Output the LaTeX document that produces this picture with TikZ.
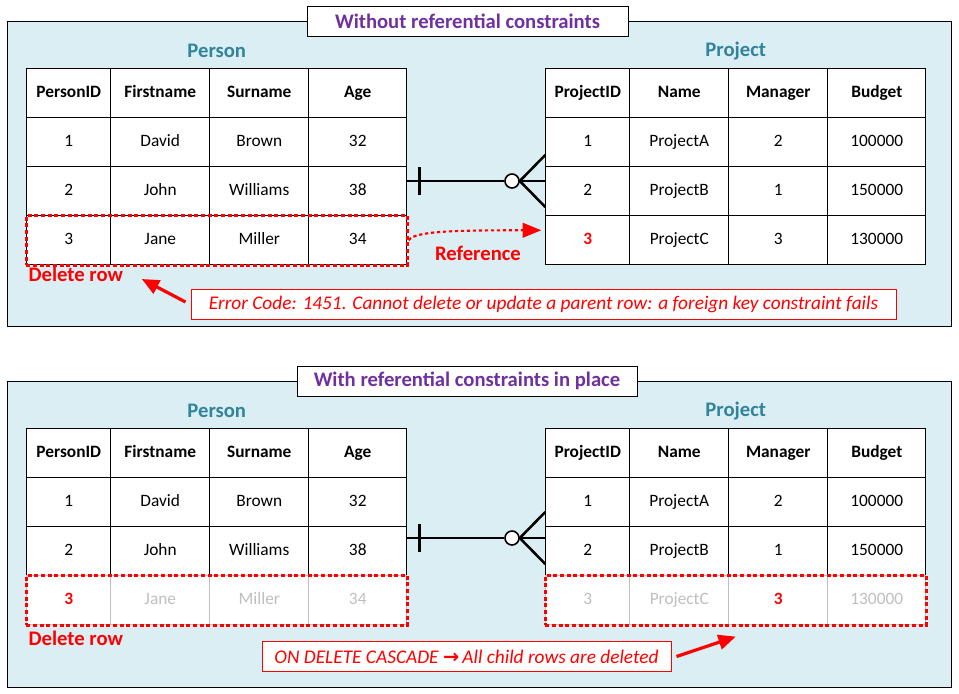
\documentclass[tikz,border=0pt]{standalone}
\usepackage{amsmath}
\usepackage{fontspec}
\setmainfont{Carlito}
\newfontfamily\symfont{DejaVu Sans}
\usepackage{tikz}
\usetikzlibrary{calc,arrows.meta,positioning,matrix,fit}

\definecolor{panelblue}{HTML}{DAEEF3}
\definecolor{titlepurple}{HTML}{7030A0}
\definecolor{tealtxt}{HTML}{31849B}
\definecolor{fadegray}{HTML}{BFBFBF}
\newcommand{\cellfont}{\fontsize{13}{15.6}\selectfont}
\newcommand{\labelfont}{\fontsize{15.5}{18.6}\selectfont\bfseries}
\newcommand{\notefont}{\fontsize{14.5}{17.4}\selectfont\itshape}

\begin{document}
\begin{tikzpicture}[x=0.75pt,y=-0.75pt,>=latex]
	    \tikzstyle{panel}=[draw=black,fill=panelblue,line width=0.75pt]
	    \tikzstyle{titlebox}=[draw=black,fill=white,line width=0.75pt,minimum height=22.5pt,text=titlepurple,font=\labelfont]
	    \tikzstyle{tbltitle}=[text=tealtxt,font=\labelfont]
	    \tikzstyle{notelabel}=[text=red,font=\labelfont]
	    \tikzstyle{cell}=[draw=black,fill=white,line width=0.75pt,minimum height=36.75pt,inner sep=0pt,
	        text height=9pt,text depth=3pt,anchor=center,font=\cellfont]
	    \tikzstyle{tbl}=[matrix of nodes,anchor=north west,inner sep=0pt,column sep=-0.75pt,row sep=-0.75pt,
	        nodes={cell},
	        column 1/.style={nodes={minimum width=63pt}},
	        column 2/.style={nodes={minimum width=74.25pt}},
	        column 3/.style={nodes={minimum width=74.25pt}},
	        column 4/.style={nodes={minimum width=73.5pt}},
	        row 1/.style={nodes={font=\cellfont\bfseries}}]
	    \tikzstyle{faded}=[row 4/.style={nodes={draw=fadegray,text=fadegray}}]
	    \tikzstyle{keycell}=[text=red,font=\cellfont\bfseries]
	    \tikzstyle{delbox}=[draw=red,line width=2pt,dash pattern=on 3pt off 2pt,inner sep=0pt]
	    \tikzstyle{erline}=[draw=black,line width=1.9pt]
	    \tikzstyle{zeroend}=[circle,draw=black,fill=white,line width=1.2pt,minimum size=10.5pt,inner sep=0pt]
	    \tikzstyle{msgbox}=[draw=red,fill=white,line width=0.75pt,minimum height=22.5pt,text=red,font=\notefont]
	    \tikzstyle{redarrow}=[draw=red,line width=2.4pt,-{Triangle[length=13pt,width=11pt]}]
	    \tikzstyle{refarrow}=[draw=red,line width=1.6pt,dash pattern=on 2.5pt off 2pt,-{Triangle[length=14pt,width=11pt]}]
	    
	    \useasboundingbox (0,0) rectangle (959,693);
	    
	    % without constraints
	    \draw[panel] (7,21) rectangle (951,326);
	    \node[titlebox,minimum width=240.75pt] (t1) at (467.5,21) {Without referential constraints};
	    
	    \matrix[tbl] (p1) at (26,68) {
	        PersonID & Firstname & Surname & Age \\
	        1 & David & Brown & 32 \\
	        2 & John & Williams & 38 \\
	        3 & Jane & Miller & 34 \\
	    };
	    \matrix[tbl] (j1) at (545,68) {
	        ProjectID & Name & Manager & Budget \\
	        1 & ProjectA & 2 & 100000 \\
	        2 & ProjectB & 1 & 150000 \\
	        |[keycell]| 3 & ProjectC & 3 & 130000 \\
	    };
	    \node[tbltitle] (pt1) at ($(p1.north)+(0,-17)$) {Person};
	    \node[tbltitle] (jt1) at ($(j1.north)+(0,-17)$) {Project};
	    
	    \node[zeroend] (o1) at (512,181) {};
	    \draw[erline] (p1-3-4.east |- o1) -- (o1);
	    \draw[erline] (o1) -- (j1-3-1.west |- o1);
	    \draw[erline] ($(p1-3-4.east |- o1)+(12,-14)$) -- ++(0,28);
	    \draw[erline] ($(j1-3-1.west |- o1)+(0,-26)$) -- (o1.east) -- ($(j1-3-1.west |- o1)+(0,26)$);
	    
	    \node[delbox,fit=(p1-4-1)(p1-4-4)] (del1) {};
	    \draw[refarrow] (del1.east) .. controls +(6,-9) and +(-90,0) .. ($(j1-4-1.west)+(-4,-10)$);
	    \node[notelabel] (ref1) at (478,253) {Reference};
	    \node[notelabel,anchor=west] (dr1) at (24,274) {Delete row};
	    \node[msgbox,minimum width=528.75pt] (err1) at (543.5,304) {Error Code: 1451. Cannot delete or update a parent row: a foreign key constraint fails};
	    \draw[redarrow] ($(err1.west)+(-5,-2)$) -- ($(dr1.east)+(14,5)$);
	    
	    % with constraints
	    \draw[panel] (7,381) rectangle (951,687);
	    \node[titlebox,minimum width=255pt] (t2) at (467,381) {With referential constraints in place};
	    
	    \matrix[tbl,faded] (p2) at (26,428) {
	        PersonID & Firstname & Surname & Age \\
	        1 & David & Brown & 32 \\
	        2 & John & Williams & 38 \\
	        |[keycell]| 3 & Jane & Miller & 34 \\
	    };
	    \matrix[tbl,faded] (j2) at (545,428) {
	        ProjectID & Name & Manager & Budget \\
	        1 & ProjectA & 2 & 100000 \\
	        2 & ProjectB & 1 & 150000 \\
	        3 & ProjectC & |[keycell]| 3 & 130000 \\
	    };
	    \node[tbltitle] (pt2) at ($(p2.north)+(0,-17)$) {Person};
	    \node[tbltitle] (jt2) at ($(j2.north)+(0,-17)$) {Project};
	    
	    \node[zeroend] (o2) at (512,538) {};
	    \draw[erline] (p2-3-4.east |- o2) -- (o2);
	    \draw[erline] (o2) -- (j2-3-1.west |- o2);
	    \draw[erline] ($(p2-3-4.east |- o2)+(12,-14)$) -- ++(0,28);
	    \draw[erline] ($(j2-3-1.west |- o2)+(0,-26)$) -- (o2.east) -- ($(j2-3-1.west |- o2)+(0,26)$);
	    
	    \node[delbox,fit=(p2-4-1)(p2-4-4)] (del3) {};
	    \node[delbox,fit=(j2-4-1)(j2-4-4)] (del4) {};
	    \node[notelabel,anchor=west] (dr2) at (24,638) {Delete row};
	    \node[msgbox,minimum width=306.75pt] (cas1) at (466.5,656.5) {ON DELETE CASCADE {\symfont\upshape\bfseries →}\,All child rows are deleted};
	    \draw[redarrow] ($(cas1.east)+(5,0)$) -- ($(del4.south)+(0,10)$);
    
\end{tikzpicture}
\end{document}
